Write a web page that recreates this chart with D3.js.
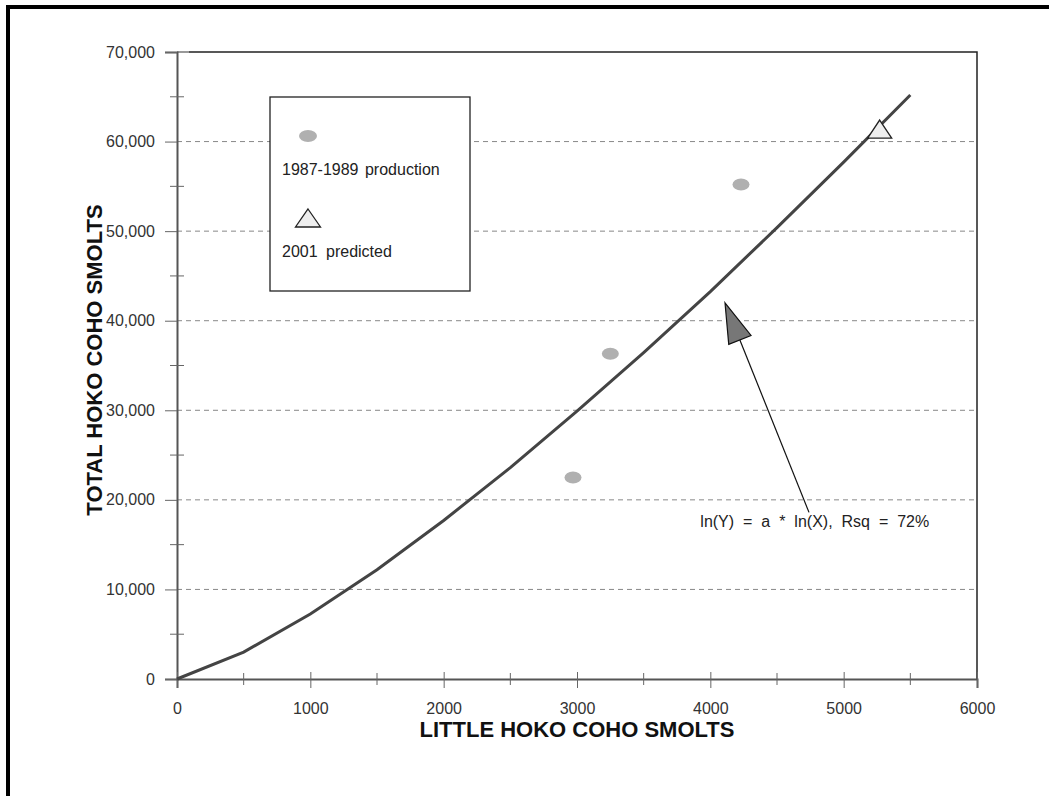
<!DOCTYPE html>
<html>
<head>
<meta charset="utf-8">
<script src="https://cdnjs.cloudflare.com/ajax/libs/d3/7.8.5/d3.min.js"></script>
<style>
  body { margin: 0; background: #fff; }
  text { font-family: Arial, "Liberation Sans", sans-serif; }
</style>
</head>
<body>
<script>
// fitted curve ln(Y) = a*ln(X)
const curveX = [0, 500, 1000, 1500, 2000, 2500, 3000, 3500, 4000, 4500, 5000, 5500];
const curveY = [0, 3000, 7250, 12200, 17700, 23600, 29900, 36450, 43250, 50400, 57700, 65200];

// 1987-1989 production
const prodX = [2970, 3250, 4230];
const prodY = [22500, 36300, 55200];

// 2001 predicted
const predX = [5270];
const predY = [61400];

const xTicks = [0, 1000, 2000, 3000, 4000, 5000, 6000];
const yTicks = [0, 10000, 20000, 30000, 40000, 50000, 60000, 70000];
const gridVals = [10000, 20000, 30000, 40000, 50000, 60000];

const W = 1049, H = 796;
const FONT = "Arial, 'Liberation Sans', sans-serif";
const svg = d3.select("body").append("svg").attr("width", W).attr("height", H);

// outer frame (only top and left show)
svg.append("line").attr("x1", 6).attr("x2", W).attr("y1", 7).attr("y2", 7)
  .attr("stroke", "#000").attr("stroke-width", 4);
svg.append("line").attr("x1", 8).attr("x2", 8).attr("y1", 5).attr("y2", H)
  .attr("stroke", "#000").attr("stroke-width", 4);

const x = d3.scaleLinear().domain([0, 6000]).range([177, 977]);
const y = d3.scaleLinear().domain([0, 70000]).range([679, 52]);

// gridlines
svg.append("g").selectAll("line").data(gridVals).enter().append("line")
  .attr("x1", x(0)).attr("x2", x(6000))
  .attr("y1", d => y(d)).attr("y2", d => y(d))
  .attr("stroke", "#888").attr("stroke-width", 1)
  .attr("stroke-dasharray", "5,4");

// top & right border of plot
svg.append("line").attr("x1", x(0)).attr("x2", x(0) + 12)
  .attr("y1", y(70000)).attr("y2", y(70000)).attr("stroke", "#777").attr("stroke-width", 1.5);
svg.append("path")
  .attr("d", `M${x(0) + 12},${y(70000)}H${x(6000)}V${y(0)}`)
  .attr("fill", "none").attr("stroke", "#222").attr("stroke-width", 1.5);

// y axis
const yAxis = d3.axisLeft(y).tickValues(yTicks).tickSize(12).tickPadding(10)
  .tickFormat(d3.format(","));
const gy = svg.append("g").attr("transform", `translate(${x(0)},0)`).call(yAxis);
gy.select(".domain").attr("stroke", "#555").attr("stroke-width", 2);
gy.selectAll(".tick line").attr("stroke", "#666");
gy.selectAll(".tick text").attr("font-size", 16).attr("fill", "#333").attr("font-family", FONT);
// minor y ticks
svg.append("g").selectAll("line")
  .data(d3.range(5000, 70000, 10000)).enter().append("line")
  .attr("x1", x(0) - 7).attr("x2", x(0) + 7)
  .attr("y1", d => y(d)).attr("y2", d => y(d))
  .attr("stroke", "#666");

// x axis
const xAxis = d3.axisBottom(x).tickValues(xTicks).tickSize(9).tickPadding(15)
  .tickFormat(d3.format("d"));
const gx = svg.append("g").attr("transform", `translate(0,${y(0)})`).call(xAxis);
gx.select(".domain").attr("stroke", "#555").attr("stroke-width", 2);
gx.selectAll(".tick line").attr("stroke", "#666").attr("y1", -7);
gx.selectAll(".tick text").attr("font-size", 16).attr("fill", "#333").attr("font-family", FONT);
// minor x ticks
svg.append("g").selectAll("line")
  .data(d3.range(500, 6000, 1000)).enter().append("line")
  .attr("x1", d => x(d)).attr("x2", d => x(d))
  .attr("y1", y(0) - 6).attr("y2", y(0) + 6)
  .attr("stroke", "#666");

// axis titles
svg.append("text").attr("x", (x(0) + x(6000)) / 2).attr("y", 737)
  .attr("text-anchor", "middle").attr("font-size", 22).attr("font-weight", "bold")
  .attr("fill", "#111").text("LITTLE HOKO COHO SMOLTS");
svg.append("text")
  .attr("transform", "translate(102,360) rotate(-90)")
  .attr("text-anchor", "middle").attr("font-size", 22).attr("font-weight", "bold")
  .attr("fill", "#111").text("TOTAL HOKO COHO SMOLTS");

// fitted curve
const line = d3.line().x(d => x(d[0])).y(d => y(d[1]));
svg.append("path").datum(d3.zip(curveX, curveY))
  .attr("d", line).attr("fill", "none")
  .attr("stroke", "#444").attr("stroke-width", 3);

// production points
svg.append("g").selectAll("ellipse").data(d3.zip(prodX, prodY)).enter().append("ellipse")
  .attr("cx", d => x(d[0])).attr("cy", d => y(d[1]))
  .attr("rx", 8.5).attr("ry", 6).attr("fill", "#b0b0b0");

// triangle marker centred on its box
const triPath = (w, h) => `M0,${-h / 2}L${w / 2},${h / 2}L${-w / 2},${h / 2}Z`;

// predicted point
svg.append("g").selectAll("path").data(d3.zip(predX, predY)).enter().append("path")
  .attr("d", triPath(24, 18))
  .attr("transform", d => `translate(${x(d[0])},${y(d[1])})`)
  .attr("fill", "#eee").attr("stroke", "#222").attr("stroke-width", 1.3);

// legend
const lg = svg.append("g");
lg.append("rect").attr("x", 270).attr("y", 97).attr("width", 200).attr("height", 194)
  .attr("fill", "#fff").attr("stroke", "#222").attr("stroke-width", 1.3);
lg.append("ellipse").attr("cx", 308).attr("cy", 136).attr("rx", 9).attr("ry", 6)
  .attr("fill", "#b0b0b0");
lg.append("text").attr("x", 282).attr("y", 175).attr("font-size", 16).attr("fill", "#222")
  .attr("word-spacing", 2).text("1987-1989 production");
lg.append("path").attr("d", triPath(25, 18))
  .attr("transform", "translate(308,218)")
  .attr("fill", "#eee").attr("stroke", "#222").attr("stroke-width", 1.3);
lg.append("text").attr("x", 282).attr("y", 257).attr("font-size", 16).attr("fill", "#222")
  .attr("word-spacing", 4).text("2001 predicted");

// annotation arrow
const tip = [4110, 42000], tail = [4740, 18600];
const tx = x(tip[0]), ty = y(tip[1]), bx = x(tail[0]), by = y(tail[1]);
const ang = Math.atan2(by - ty, bx - tx);
const hl = 40, hw = 12;
const cx = tx + hl * Math.cos(ang), cy = ty + hl * Math.sin(ang);
svg.append("line").attr("x1", cx).attr("y1", cy).attr("x2", bx).attr("y2", by)
  .attr("stroke", "#111").attr("stroke-width", 1.2);
svg.append("path")
  .attr("d", `M${tx},${ty}L${cx + hw * Math.sin(ang)},${cy - hw * Math.cos(ang)}L${cx - hw * Math.sin(ang)},${cy + hw * Math.cos(ang)}Z`)
  .attr("fill", "#777").attr("stroke", "#111").attr("stroke-width", 1.2);
svg.append("text").attr("x", x(3925)).attr("y", 527).attr("font-size", 16).attr("fill", "#222")
  .attr("word-spacing", 4.5).text("ln(Y) = a * ln(X), Rsq = 72%");
</script>
</body>
</html>
